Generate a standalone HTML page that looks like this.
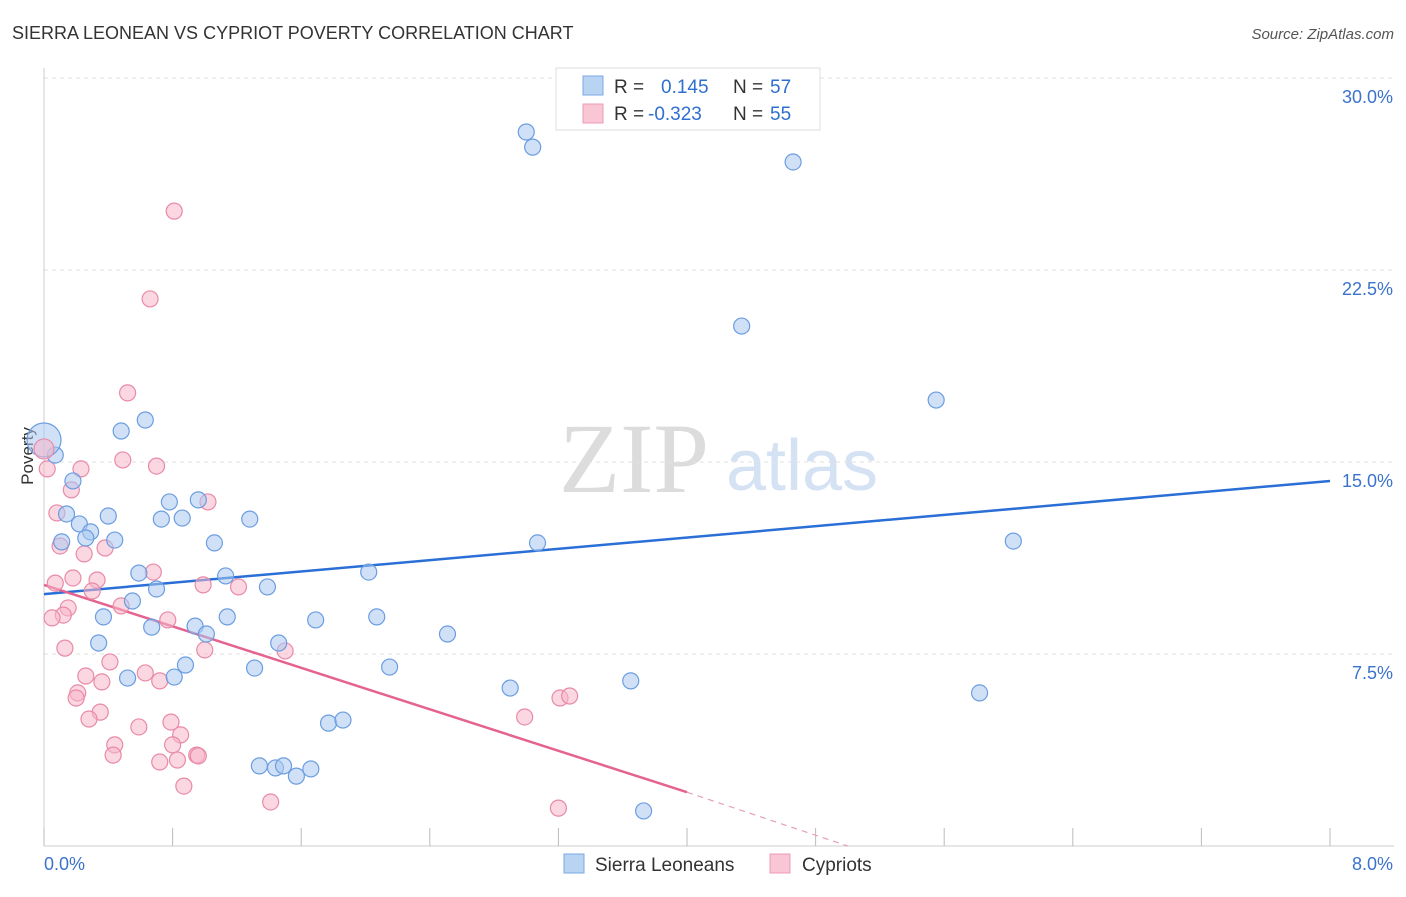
<!DOCTYPE html>
<html><head><meta charset="utf-8"><style>
body{margin:0;background:#fff;font-family:"Liberation Sans",sans-serif;}
svg text{font-family:"Liberation Sans",sans-serif;}
</style></head><body>
<svg id="chart" width="1406" height="892" xmlns="http://www.w3.org/2000/svg">
<text x="12" y="39" font-size="18" fill="#333">SIERRA LEONEAN VS CYPRIOT POVERTY CORRELATION CHART</text>
<text x="1394" y="39" font-size="15" fill="#555" text-anchor="end" font-style="italic">Source: ZipAtlas.com</text>
<g>
<text x="634" y="492" font-size="100" fill="#dcdcdc" text-anchor="middle" style="font-family:'Liberation Serif',serif">ZIP</text>
<text x="802" y="490" font-size="72" fill="#d4e2f4" text-anchor="middle">atlas</text>
</g>
<text transform="translate(33,456) rotate(-90)" font-size="17" fill="#333" text-anchor="middle">Poverty</text>
<g id="grid"></g><g id="axes"></g><g id="trend"></g><g id="points"></g>
<g>
<rect x="556" y="68" width="264" height="62" fill="#fff" stroke="#ddd"/>
<rect x="583" y="76" width="20" height="19" fill="#b9d3f3" stroke="#7aa8e4"/>
<rect x="583" y="104" width="20" height="19" fill="#f9c6d6" stroke="#ec9bb4"/>
<text x="614" y="93" font-size="19" fill="#333">R =</text><text x="661" y="93" font-size="19" fill="#2f6fd0">0.145</text>
<text x="733" y="93" font-size="19" fill="#333">N =</text><text x="770" y="93" font-size="19" fill="#2f6fd0">57</text>
<text x="614" y="120" font-size="19" fill="#333">R =</text><text x="648" y="120" font-size="19" fill="#2f6fd0">-0.323</text>
<text x="733" y="120" font-size="19" fill="#333">N =</text><text x="770" y="120" font-size="19" fill="#2f6fd0">55</text>
</g>
<g>
<rect x="564" y="854" width="20" height="19" fill="#b9d3f3" stroke="#7aa8e4"/>
<text x="595" y="871" font-size="19" fill="#333">Sierra Leoneans</text>
<rect x="770" y="854" width="20" height="19" fill="#f9c6d6" stroke="#ec9bb4"/>
<text x="802" y="871" font-size="19" fill="#333">Cypriots</text>
</g>
</svg>
<script>
const yTicks=[7.5,15,22.5,30];
const yTickLabels=["7.5%","15.0%","22.5%","30.0%"];
const xTickCount=10;
const xMin=0,xMax=8,yMin=0;
const blueX=[3.00,3.04,4.66,4.34,5.55,0.63,0.48,0.07,0.18,0.14,0.40,0.22,0.29,0.78,0.96,0.73,0.86,1.28,0.11,0.26,0.44,1.06,3.07,6.03,0.59,1.13,2.02,1.39,0.70,0.55,0.37,1.14,1.69,2.07,0.67,0.94,1.01,2.51,0.34,1.46,0.88,1.31,2.15,0.52,0.81,2.90,3.65,5.82,1.77,1.86,1.34,1.44,1.49,1.57,1.66,3.73];
const blueY=[27.89,27.30,26.72,20.31,17.42,16.64,16.21,15.27,14.26,12.97,12.89,12.58,12.27,13.44,13.52,12.77,12.81,12.77,11.88,12.03,11.95,11.84,11.84,11.91,10.66,10.55,10.70,10.12,10.04,9.57,8.95,8.95,8.83,8.95,8.55,8.59,8.28,8.28,7.93,7.93,7.07,6.95,6.99,6.56,6.60,6.17,6.45,5.98,4.80,4.92,3.13,3.05,3.13,2.73,3.01,1.37];
const pinkX=[0.81,0.66,0.52,0.49,0.70,0.23,0.02,0.17,1.02,0.08,0.10,0.38,0.25,0.68,0.18,0.33,0.07,0.99,1.21,0.30,0.48,0.15,0.12,0.05,0.77,0.13,1.00,1.50,0.41,0.63,0.26,0.72,0.36,0.21,0.20,3.21,3.27,0.35,2.99,0.28,0.79,0.59,0.85,0.44,0.80,0.43,0.95,0.96,0.83,0.72,0.87,1.41,3.20];
const pinkY=[24.80,21.37,17.70,15.08,14.84,14.73,14.73,13.91,13.44,13.01,11.72,11.64,11.41,10.70,10.47,10.39,10.27,10.20,10.12,9.96,9.38,9.30,9.02,8.91,8.83,7.73,7.66,7.62,7.19,6.76,6.64,6.45,6.41,5.98,5.78,5.78,5.86,5.23,5.04,4.96,4.84,4.65,4.34,3.95,3.95,3.55,3.55,3.52,3.36,3.28,2.34,1.72,1.48];
const bigBlue=[0,15.86];
const bigPink=[0,15.51];
const blueTrend=[[0,9.84],[8,14.26]];
const pinkTrend=[[0,10.2],[4,2.1],[5,0]];
const X=v=>44+(v-xMin)*(1286/(xMax-xMin));
const Y=v=>846-(v-yMin)*25.6;
const NS="http://www.w3.org/2000/svg";
function mk(tag,attrs,parent){const e=document.createElementNS(NS,tag);for(const k in attrs)e.setAttribute(k,attrs[k]);document.getElementById(parent).appendChild(e);return e;}
yTicks.forEach((t,i)=>{
 const g=mk('line',{x1:44,x2:1394,y1:Y(t),y2:Y(t),stroke:'#e2e2e2','stroke-dasharray':'4,4'},'grid');
 
 
 const l=mk('text',{x:1393,y:Y(t)+25,'font-size':18,fill:'#3b73cc','text-anchor':'end'},'axes');
 l.textContent=yTickLabels[i];
 
 
});
const xa=mk('line',{x1:44,x2:1394,y1:846,y2:846,stroke:'#ccc'},'axes');


const ya=mk('line',{x1:44,x2:44,y1:68,y2:846,stroke:'#ccc'},'axes');


for(let i=0;i<=xTickCount;i++){
 const v=xMin+i*(xMax-xMin)/xTickCount;
 const t=mk('line',{x1:X(v),x2:X(v),y1:828,y2:846,stroke:'#bbb'},'axes');
 
 
}
const xl0=mk('text',{x:44,y:870,'font-size':18,fill:'#3b73cc'},'axes');xl0.textContent=xMin.toFixed(1)+'%';


const xl1=mk('text',{x:1393,y:870,'font-size':18,fill:'#3b73cc','text-anchor':'end'},'axes');xl1.textContent=xMax.toFixed(1)+'%';


function dot(x,y,r,fill,stroke,name){
 const c=mk('circle',{cx:X(x),cy:Y(y),r:r,fill:fill,'fill-opacity':0.55,stroke:stroke,'stroke-width':1.2},'points');
 
 
}
pinkX.forEach((x,i)=>dot(x,pinkY[i],8,'#f7b6cb','#e88aa8','cypriot-point'));
blueX.forEach((x,i)=>dot(x,blueY[i],8,'#a9c8f0','#6b9de0','sierra-leonean-point'));
dot(bigBlue[0],bigBlue[1],17,'#a9c8f0','#6b9de0','sierra-leonean-point-large');
dot(bigPink[0],bigPink[1],10,'#f7b6cb','#e88aa8','cypriot-point-large');
const bl=mk('line',{x1:X(blueTrend[0][0]),y1:Y(blueTrend[0][1]),x2:X(blueTrend[1][0]),y2:Y(blueTrend[1][1]),stroke:'#2a6fd6','stroke-width':2.5},'trend');


const pl=mk('line',{x1:X(pinkTrend[0][0]),y1:Y(pinkTrend[0][1]),x2:X(pinkTrend[1][0]),y2:Y(pinkTrend[1][1]),stroke:'#e5638f','stroke-width':2.5},'trend');


const pd=mk('line',{x1:X(pinkTrend[1][0]),y1:Y(pinkTrend[1][1]),x2:X(pinkTrend[2][0]),y2:Y(pinkTrend[2][1]),stroke:'#e5a0b8','stroke-width':1.2,'stroke-dasharray':'6,5'},'trend');


</script>
</body></html>
